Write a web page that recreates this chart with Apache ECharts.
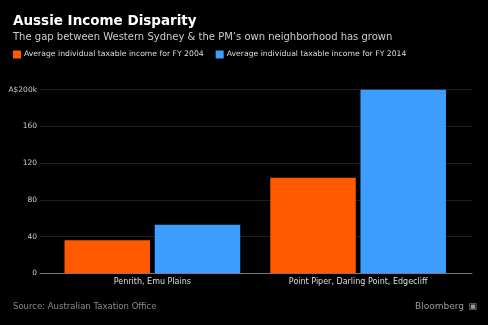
<!DOCTYPE html>
<html><head><meta charset="utf-8">
<script src="https://cdn.jsdelivr.net/npm/echarts@6/dist/echarts.min.js"></script>
<style>html,body{margin:0;padding:0;background:#000;}#c{width:488px;height:325px;}</style>
</head><body><div id="c"></div>
<script>
const categories = ['Penrith, Emu Plains', 'Point Piper, Darling Point, Edgecliff'];
const fy2004 = [36, 104];
const fy2014 = [53, 200];
const yTicks = [0, 40, 80, 120, 160, 200];
const seriesNames = ['Average individual taxable income for FY 2004', 'Average individual taxable income for FY 2014'];

const FONT = '"DejaVu Sans", Verdana, sans-serif';
const chart = echarts.init(document.getElementById('c'), null, {renderer: 'canvas'});
chart.setOption({
  backgroundColor: '#000',
  animation: false,
  textStyle: {fontFamily: FONT},
  title: [
    {text: 'Aussie Income Disparity', left: 8, top: 9, textStyle: {color: '#fff', fontSize: 13.5, fontWeight: 'bold', fontFamily: FONT}},
    {text: 'The gap between Western Sydney & the PM\u2019s own neighborhood has grown', left: 8, top: 27, textStyle: {color: '#ccc', fontSize: 10, fontWeight: 'normal', fontFamily: FONT}},
    {text: 'Source: Australian Taxation Office', left: 8, top: 297, textStyle: {color: '#888', fontSize: 8.5, fontWeight: 'normal', fontFamily: FONT}},
    {text: 'Bloomberg', right: 19, top: 297, textStyle: {color: '#999', fontSize: 9, fontWeight: 'normal', fontFamily: FONT}},
    {text: '\u25A3', right: 6, top: 297, textStyle: {color: '#999', fontSize: 9, fontWeight: 'normal', fontFamily: FONT}}
  ],
  legend: {
    left: 8, top: 45.5, itemWidth: 8, itemHeight: 8, itemGap: 12, icon: 'rect',
    textStyle: {color: '#ddd', fontSize: 7.7, fontFamily: FONT, padding: [0, 0, 0, -2]},
    data: seriesNames
  },
  grid: [
    {left: 40, right: 16, top: 89.7, bottom: 51.7},
    {left: 49.5, right: 27, top: 89.7, bottom: 51.7}
  ],
  xAxis: [
    {type: 'value', gridIndex: 0, min: 0, max: 1, show: true,
     axisLine: {show: true, onZero: false, lineStyle: {color: '#777', width: 1}},
     axisTick: {show: false}, axisLabel: {show: false}, splitLine: {show: false}},
    {type: 'category', gridIndex: 1, data: categories,
     axisLine: {show: false}, axisTick: {show: false},
     axisLabel: {color: '#ddd', fontSize: 8, margin: 5, fontFamily: FONT}}
  ],
  yAxis: [
    {type: 'value', gridIndex: 0, min: 0, max: 200, interval: 40,
     axisLine: {show: false}, axisTick: {show: false},
     axisLabel: {color: '#ccc', fontSize: 7.5, margin: 3, fontFamily: FONT,
       formatter: v => v === yTicks[yTicks.length - 1] ? 'A$' + v + 'k' : String(v)},
     splitLine: {lineStyle: {color: '#1e1e1e', width: 1}}},
    {type: 'value', gridIndex: 1, min: 0, max: 200, interval: 40, show: false, splitLine: {show: false}}
  ],
  series: [
    {name: seriesNames[0], type: 'bar', xAxisIndex: 1, yAxisIndex: 1, data: fy2004,
     itemStyle: {color: '#ff5a00'}, barWidth: 85.5, barGap: '5.5%'},
    {name: seriesNames[1], type: 'bar', xAxisIndex: 1, yAxisIndex: 1, data: fy2014,
     itemStyle: {color: '#3d9eff'}, barWidth: 85.5, barGap: '5.5%'}
  ]
});
</script></body></html>
